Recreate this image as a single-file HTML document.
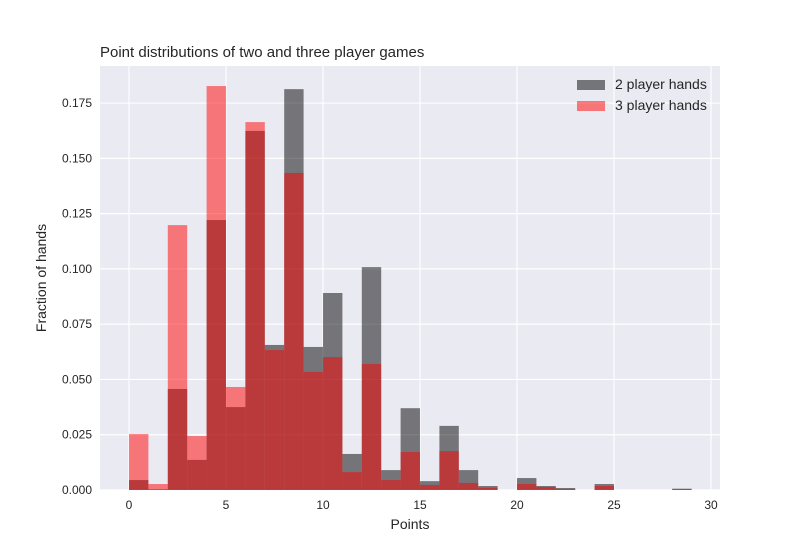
<!DOCTYPE html>
<html><head><meta charset="utf-8"><style>
body{margin:0;background:#fff;font-family:"Liberation Sans",Arial,sans-serif;}
svg text{font-family:"Liberation Sans",Arial,sans-serif;fill:#262626;}
</style></head><body>
<svg id="chart" width="800" height="550" xmlns="http://www.w3.org/2000/svg">
<rect x="0" y="0" width="800" height="550" fill="#fff"/>
<rect x="100" y="66" width="620" height="424" fill="#eaeaf2"/>
<g id="grid"></g>
<g id="bars"></g>
<g id="ticks"></g>
<text x="100" y="57" font-size="15">Point distributions of two and three player games</text>
<text x="410" y="529" font-size="14" text-anchor="middle">Points</text>
<text transform="translate(46,278) rotate(-90)" font-size="14" text-anchor="middle">Fraction of hands</text>
<g>
<rect x="577" y="80" width="28" height="10" fill="#000" fill-opacity="0.5"/>
<text x="615" y="89" font-size="14">2 player hands</text>
<rect x="577" y="101" width="28" height="10" fill="#ff0000" fill-opacity="0.5"/>
<text x="615" y="110" font-size="14">3 player hands</text>
</g>
</svg>
<script>
const binStarts=[0,1,2,3,4,5,6,7,8,9,10,11,12,13,14,15,16,17,18,19,20,21,22,23,24,25,26,27,28];
const twoPlayer=[0.0045,0.0003,0.0457,0.0136,0.1221,0.0375,0.1624,0.0656,0.1813,0.0647,0.0891,0.0163,0.1008,0.009,0.037,0.004,0.029,0.009,0.0018,0,0.0054,0.0018,0.0009,0,0.0027,0,0,0,0.0006];
const threePlayer=[0.0253,0.0027,0.1198,0.0244,0.1827,0.0466,0.1664,0.0633,0.1434,0.0534,0.0601,0.0081,0.057,0.0045,0.0172,0.0023,0.0176,0.0032,0.001,0,0.0027,0.0014,0.0005,0,0.0018,0,0,0,0.0004];
const xTicks=[0,5,10,15,20,25,30];
const yTicks=[0,0.025,0.05,0.075,0.1,0.125,0.15,0.175];
const yTickLabels=["0.000","0.025","0.050","0.075","0.100","0.125","0.150","0.175"];
const NS="http://www.w3.org/2000/svg";
const x=v=>129+v*19.4;
const y=v=>490-v*2211;
function mk(tag,attrs,parent){const e=document.createElementNS(NS,tag);for(const k in attrs)e.setAttribute(k,attrs[k]);parent.appendChild(e);return e;}
const grid=document.getElementById('grid'),bars=document.getElementById('bars'),ticks=document.getElementById('ticks');
xTicks.forEach(t=>{
 const l=mk('line',{x1:x(t),x2:x(t),y1:66,y2:490,stroke:'#fff','stroke-width':1.2},grid);
 
 
 const tx=mk('text',{x:x(t),y:509,'font-size':12,'text-anchor':'middle'},ticks);
 tx.textContent=t;
 
 
});
yTicks.forEach((t,i)=>{
 const l=mk('line',{x1:100,x2:720,y1:y(t),y2:y(t),stroke:'#fff','stroke-width':1.2},grid);
 
 
 const tx=mk('text',{x:92,y:y(t)+4,'font-size':12,'text-anchor':'end'},ticks);
 tx.textContent=yTickLabels[i];
 
 
});
binStarts.forEach((b,i)=>{
 if(twoPlayer[i]>0){
  const r=mk('rect',{x:x(b),y:y(twoPlayer[i]),width:x(b+1)-x(b),height:y(0)-y(twoPlayer[i]),fill:'#000','fill-opacity':0.5},bars);
  
  
 }
});
binStarts.forEach((b,i)=>{
 if(threePlayer[i]>0){
  const r=mk('rect',{x:x(b),y:y(threePlayer[i]),width:x(b+1)-x(b),height:y(0)-y(threePlayer[i]),fill:'#ff0000','fill-opacity':0.5},bars);
  
  
 }
});
</script>
</body></html>
